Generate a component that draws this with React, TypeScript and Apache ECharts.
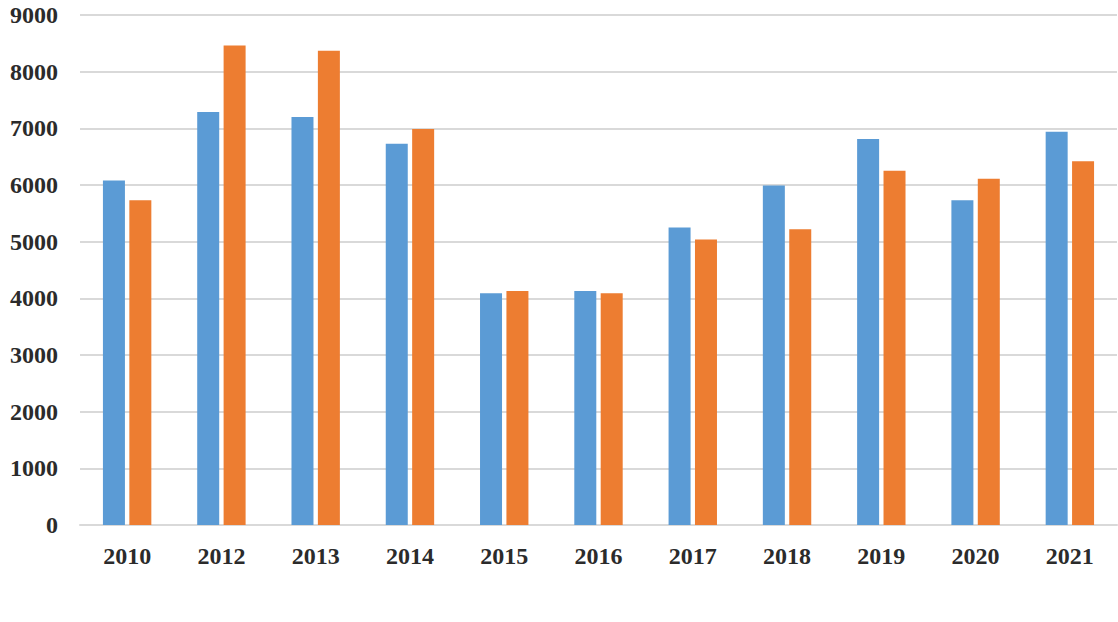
import React, { useEffect, useRef } from "react";
import * as echarts from "echarts";

const categories = ["2010", "2012", "2013", "2014", "2015", "2016", "2017", "2018", "2019", "2020", "2021"];
const seriesA = [6080, 7290, 7200, 6730, 4090, 4130, 5250, 5990, 6810, 5730, 6940];
const seriesB = [5730, 8460, 8370, 6990, 4130, 4090, 5040, 5220, 6250, 6110, 6420];
const yTicks = { min: 0, max: 9000, interval: 1000 };

export default function App() {
  const ref = useRef<HTMLDivElement>(null);
  useEffect(() => {
    if (!ref.current) return;
    const chart = echarts.init(ref.current, null, { renderer: "svg" });
    const font = {
      fontFamily: "'Liberation Serif', 'Times New Roman', serif",
      fontWeight: "bold" as const,
      fontSize: 24,
      color: "#2b2b2b",
    };
    chart.setOption({
      animation: false,
      backgroundColor: "#ffffff",
      grid: { left: 80, right: 1, top: 15, bottom: 97, containLabel: false },
      xAxis: {
        type: "category",
        data: categories,
        axisLine: { show: true, lineStyle: { color: "#d9d9d9", width: 2 } },
        axisTick: { show: false },
        axisLabel: { ...font, margin: 19 },
      },
      yAxis: {
        type: "value",
        min: yTicks.min,
        max: yTicks.max,
        interval: yTicks.interval,
        axisLine: { show: false },
        axisTick: { show: false },
        axisLabel: { ...font, margin: 22, formatter: (v: number) => String(v) },
        splitLine: { lineStyle: { color: "#d9d9d9", width: 2 } },
      },
      series: [
        {
          type: "bar",
          data: seriesA,
          barWidth: 22,
          barGap: "20%",
          itemStyle: { color: "#5b9bd5" },
        },
        {
          type: "bar",
          data: seriesB,
          barWidth: 22,
          barGap: "20%",
          itemStyle: { color: "#ed7d31" },
        },
      ],
    });
    return () => chart.dispose();
  }, []);
  return (
    <div
      ref={ref}
      style={{ position: "fixed", left: 0, top: 0, width: 1118, height: 622, background: "#fff" }}
    />
  );
}
